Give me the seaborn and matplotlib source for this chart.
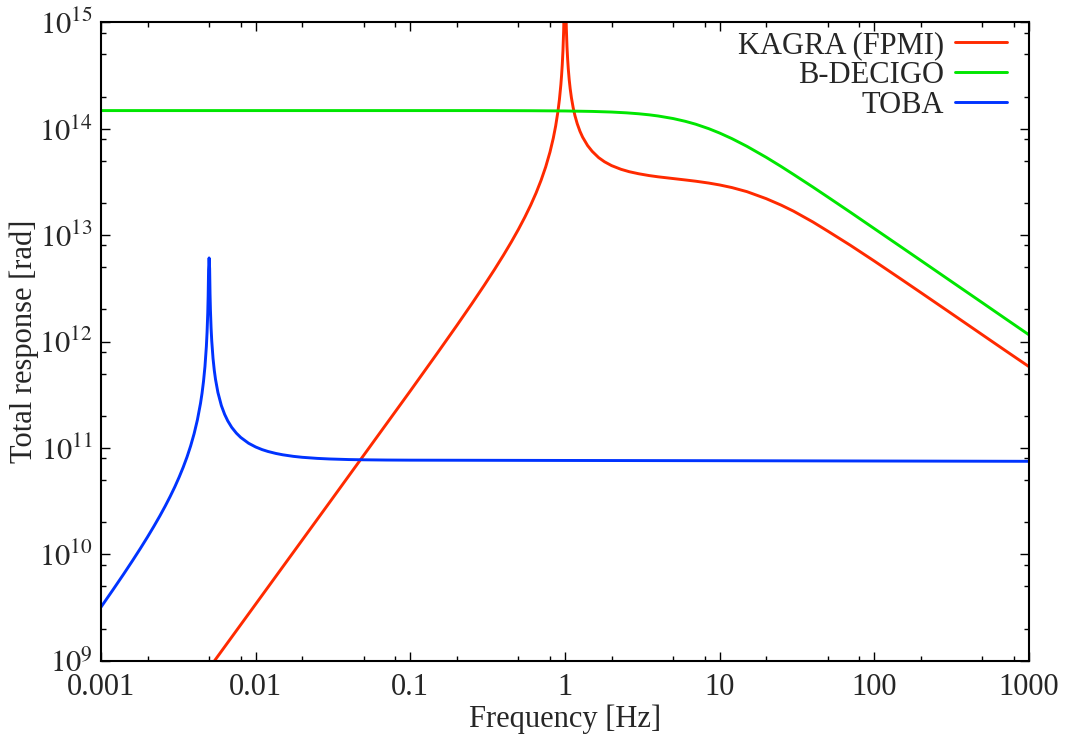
import numpy as np
import pandas as pd
import matplotlib
matplotlib.use("Agg")
import matplotlib.pyplot as plt
import matplotlib.ticker as mticker
import seaborn as sns

# values (log-log)
kagra_freq = [0.005, 0.01, 0.03, 0.1, 0.15, 0.2, 0.25, 0.3, 0.35, 0.4, 0.45, 0.5,
              0.55, 0.6, 0.65, 0.7, 0.75, 0.8, 0.84, 0.87, 0.9, 0.92, 0.94, 0.95,
              0.96, 0.97, 0.98, 0.99, 1.0, 1.01, 1.02, 1.03, 1.04, 1.05, 1.065,
              1.08, 1.1, 1.13, 1.16, 1.2, 1.25, 1.3, 1.4, 1.5, 1.65, 1.8, 2, 2.3,
              2.6, 3, 3.5, 4, 5, 6, 7, 8.5, 10, 12, 15, 20, 25, 30, 40, 50, 70,
              100, 150, 200, 300, 500, 700, 1000]
kagra_resp = [8.5e8, 3.4e9, 3.063e10, 3.434e11, 7.83e11, 1.417e12, 2.267e12,
              3.363e12, 4.746e12, 6.476e12, 8.633e12, 1.133e13, 1.475e13,
              1.9125e13, 2.487e13, 3.267e13, 4.371e13, 6.044e13, 8.149e13,
              1.0586e14, 1.449e14, 1.8735e14, 2.581e14, 3.147e14, 3.997e14,
              5.41e14, 8.25e14, 1.67e15, 5e15, 1.73e15, 8.76e14, 5.92e14, 4.507e14,
              3.657e14, 2.873e14, 2.383e14, 1.959e14, 1.568e14, 1.324e14, 1.113e14,
              9.444e13, 8.328e13, 6.942e13, 6.12e13, 5.349e13, 4.89e13, 4.5e13,
              4.155e13, 3.944e13, 3.77e13, 3.626e13, 3.53e13, 3.4e13, 3.298e13,
              3.21e13, 3.084e13, 2.96e13, 2.797e13, 2.561e13, 2.2e13, 1.912e13,
              1.68e13, 1.33e13, 1.09e13, 8.02e12, 5.7e12, 3.828e12, 2.88e12,
              1.924e12, 1.155e12, 8.255e11, 5.8e11]

decigo_freq = [0.001, 0.01, 0.1, 0.3, 0.6, 1, 1.5, 2, 2.5, 3, 3.5, 4, 5, 6, 7, 8.5,
               10, 12, 15, 20, 25, 30, 40, 50, 70, 100, 150, 200, 300, 500, 700,
               1000]
decigo_resp = [1.48e14, 1.48e14, 1.48e14, 1.48e14, 1.4756e14, 1.468e14, 1.4533e14,
               1.434e14, 1.4094e14, 1.381e14, 1.3503e14, 1.317e14, 1.246e14,
               1.173e14, 1.102e14, 1.0007e14, 9.1e13, 8.066e13, 6.83e13, 5.38e13,
               4.409e13, 3.72e13, 2.833e13, 2.28e13, 1.64e13, 1.15e13, 7.686e12,
               5.77e12, 3.847e12, 2.31e12, 1.649e12, 1.155e12]

toba_freq = [0.001, 0.0012, 0.0014, 0.0016, 0.0018, 0.002, 0.0022, 0.0024, 0.0026,
             0.0028, 0.003, 0.0032, 0.0034, 0.0036, 0.0038, 0.004, 0.0042, 0.0044,
             0.0045, 0.0046, 0.0047, 0.0048, 0.00485, 0.0049, 0.00493, 0.00496,
             0.005, 0.00504, 0.00507, 0.0051, 0.00515, 0.0052, 0.0053, 0.0054,
             0.0055, 0.0057, 0.006, 0.0063, 0.0066, 0.007, 0.0075, 0.008, 0.009,
             0.01, 0.011, 0.012, 0.0135, 0.015, 0.0175, 0.02, 0.025, 0.03, 0.04,
             0.05, 0.07, 0.1, 1, 10, 100, 1000]
toba_resp = [3.19e9, 4.68e9, 6.51e9, 8.73e9, 1.139e10, 1.457e10, 1.837e10, 2.29e10,
             2.835e10, 3.495e10, 4.30e10, 5.31e10, 6.58e10, 8.23e10, 1.046e11,
             1.36e11, 1.833e11, 2.626e11, 3.261e11, 4.22e11, 5.807e11, 8.99e11,
             1.218e12, 1.855e12, 2.675e12, 4.72e12, 6.1e12, 4.84e12, 2.79e12,
             1.97e12, 1.333e12, 1.014e12, 6.95e11, 5.36e11, 4.41e11, 3.32e11,
             2.50e11, 2.067e11, 1.795e11, 1.56e11, 1.377e11, 1.255e11, 1.106e11,
             1.02e11, 9.64e10, 9.26e10, 8.87e10, 8.61e10, 8.33e10, 8.16e10, 7.97e10,
             7.87e10, 7.77e10, 7.73e10, 7.69e10, 7.67e10, 7.62e10, 7.58e10, 7.53e10,
             7.48e10]

series_names = ["KAGRA (FPMI)", "B-DECIGO", "TOBA"]
series_colors = ["#ff2a00", "#00e600", "#0033ff"]
xtick_vals = [0.001, 0.01, 0.1, 1, 10, 100, 1000]
xtick_text = ["0.001", "0.01", "0.1", "1", "10", "100", "1000"]

df = pd.concat([
    pd.DataFrame({"freq": kagra_freq, "resp": kagra_resp, "det": series_names[0]}),
    pd.DataFrame({"freq": decigo_freq, "resp": decigo_resp, "det": series_names[1]}),
    pd.DataFrame({"freq": toba_freq, "resp": toba_resp, "det": series_names[2]}),
], ignore_index=True)

sns.set_style("ticks")
plt.rcParams["font.family"] = ["Liberation Serif", "DejaVu Serif"]
plt.rcParams["mathtext.fontset"] = "stix"

fig = plt.figure(figsize=(10.73, 7.37), dpi=100)
ax = fig.add_axes([101 / 1073, 1 - 660.7 / 737, 928 / 1073, 638.4 / 737])
ax.set_xscale("log")
ax.set_yscale("log")

sns.lineplot(data=df, x="freq", y="resp", hue="det", hue_order=series_names,
             palette=series_colors, linewidth=2.1, sort=False, estimator=None,
             ax=ax)

ax.set_xlim(0.001, 1000)
ax.set_ylim(1e9, 1e15)

ax.xaxis.set_major_locator(mticker.FixedLocator(xtick_vals))
ax.xaxis.set_major_formatter(mticker.FixedFormatter(xtick_text))
ax.xaxis.set_minor_locator(mticker.LogLocator(base=10, subs=[2, 5, 8], numticks=20))
ax.xaxis.set_minor_formatter(mticker.NullFormatter())
ax.yaxis.set_major_locator(mticker.LogLocator(base=10, numticks=20))
ax.yaxis.set_major_formatter(
    mticker.FuncFormatter(lambda v, p: r"$10^{%d}$" % int(round(np.log10(v)))))
ax.yaxis.set_minor_locator(mticker.LogLocator(base=10, subs=[2, 5, 8], numticks=20))
ax.yaxis.set_minor_formatter(mticker.NullFormatter())

ax.tick_params(which="both", direction="in", top=True, right=True, width=1.0,
               labelsize=22, color="black")
ax.tick_params(axis="x", which="major", length=6.3, pad=9)
ax.tick_params(axis="y", which="major", length=6.3, pad=6)
ax.tick_params(which="minor", length=3.4)
for sp in ax.spines.values():
    sp.set_linewidth(1.5)
    sp.set_color("black")

ax.set_xlabel("Frequency [Hz]", fontsize=22, labelpad=2)
ax.set_ylabel("Total response [rad]", fontsize=22, labelpad=0)

handles, labels = ax.get_legend_handles_labels()
ax.legend(handles, labels, loc="upper right", bbox_to_anchor=(1007 / 1073, 1 - 31 / 737),
          bbox_transform=fig.transFigure, frameon=False, markerfirst=False,
          fontsize=22, handlelength=1.7, handletextpad=0.35, labelspacing=0.03,
          borderpad=0, borderaxespad=0)

fig.savefig("out.png", dpi=100)
plt.close(fig)
